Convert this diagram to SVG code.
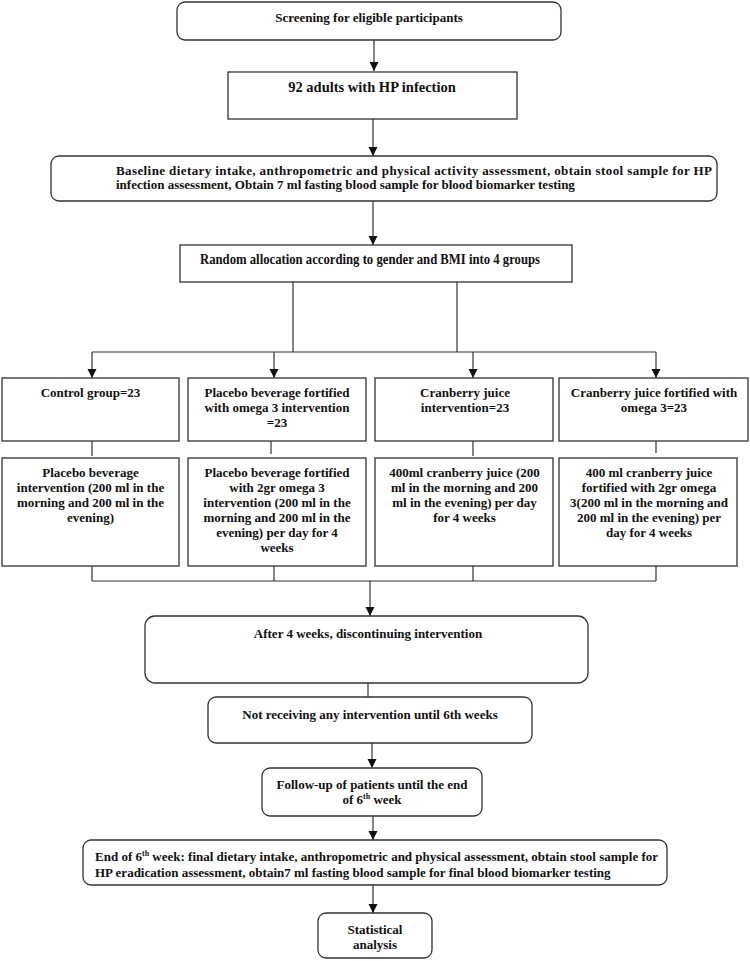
<svg xmlns="http://www.w3.org/2000/svg" width="750" height="961" viewBox="0 0 750 961">
<style>
.b{fill:#fff;stroke:#333;stroke-width:1.3}
.t{font-family:"Liberation Serif","Times New Roman",serif;font-weight:bold;font-size:13px;fill:#111}
.c{text-anchor:middle}
.l{fill:none;stroke:#333;stroke-width:1.2}
</style>
<defs>
<marker id="ah" markerWidth="10" markerHeight="10" refX="9" refY="5" orient="auto" markerUnits="userSpaceOnUse">
<path d="M0,0.5 L9,5 L0,9.5 Z" fill="#111"/>
</marker>
</defs>
<rect width="750" height="961" fill="#fff"/>
<g id="connectors">
<line class="l" x1="374" y1="40" x2="374" y2="71" marker-end="url(#ah)"/>
<line class="l" x1="373" y1="119" x2="373" y2="156" marker-end="url(#ah)"/>
<line class="l" x1="373" y1="201" x2="373" y2="245" marker-end="url(#ah)"/>
<line class="l" x1="293" y1="282" x2="293" y2="352"/>
<line class="l" x1="457" y1="282" x2="457" y2="352"/>
<line class="l" x1="92" y1="352" x2="656" y2="352"/>
<line class="l" x1="92" y1="352" x2="92" y2="378" marker-end="url(#ah)"/>
<line class="l" x1="274" y1="352" x2="274" y2="378" marker-end="url(#ah)"/>
<line class="l" x1="473" y1="352" x2="473" y2="378" marker-end="url(#ah)"/>
<line class="l" x1="656" y1="352" x2="656" y2="378" marker-end="url(#ah)"/>
<line class="l" x1="92" y1="441" x2="92" y2="456"/>
<line class="l" x1="271" y1="441" x2="271" y2="454"/>
<line class="l" x1="473" y1="441" x2="473" y2="456"/>
<line class="l" x1="656" y1="441" x2="656" y2="453"/>
<line class="l" x1="92" y1="566" x2="92" y2="581"/>
<line class="l" x1="274" y1="566" x2="274" y2="581"/>
<line class="l" x1="473" y1="566" x2="473" y2="581"/>
<line class="l" x1="656" y1="566" x2="656" y2="581"/>
<line class="l" x1="92" y1="581" x2="656" y2="581"/>
<line class="l" x1="370" y1="581" x2="370" y2="616" marker-end="url(#ah)"/>
<line class="l" x1="368" y1="683" x2="368" y2="697"/>
<line class="l" x1="372" y1="743" x2="372" y2="768" marker-end="url(#ah)"/>
<line class="l" x1="373" y1="816" x2="373" y2="840" marker-end="url(#ah)"/>
<line class="l" x1="373" y1="885" x2="373" y2="913" marker-end="url(#ah)"/>
</g>
<g id="n1"><rect class="b" x="177" y="2" width="384" height="38" rx="8"/>
<text class="t c" x="369" y="21.5">Screening for eligible participants</text></g>
<g id="n2"><rect class="b" x="228" y="72" width="289" height="47"/>
<text class="t c" x="372" y="92" style="font-size:14.5px">92 adults with HP infection</text></g>
<g id="n3"><rect class="b" x="51" y="156" width="666" height="45" rx="8"/>
<text class="t" x="116" y="175" textLength="596" lengthAdjust="spacing">Baseline dietary intake, anthropometric and physical activity assessment, obtain stool sample for HP</text>
<text class="t" x="116" y="188.5">infection assessment, Obtain 7 ml fasting blood sample for blood biomarker testing</text></g>
<g id="n4"><rect class="b" x="180" y="245" width="392" height="37"/>
<text class="t" x="200" y="264" style="font-size:14px" textLength="340" lengthAdjust="spacingAndGlyphs">Random allocation according to gender and BMI into 4 groups</text></g>
<g id="g1"><rect class="b" x="2" y="378" width="177" height="63"/>
<text class="t c" x="90.5" y="396.5">Control group=23</text></g>
<g id="g2"><rect class="b" x="188" y="378" width="178" height="63"/>
<text class="t c" x="277" y="396.5">Placebo beverage fortified</text>
<text class="t c" x="277" y="411.5">with omega 3 intervention</text>
<text class="t c" x="277" y="426.5">=23</text></g>
<g id="g3"><rect class="b" x="375" y="378" width="178" height="63"/>
<text class="t c" x="465" y="396.5">Cranberry juice</text>
<text class="t c" x="465" y="411.5">intervention=23</text></g>
<g id="g4"><rect class="b" x="559" y="378" width="189" height="63"/>
<text class="t c" x="654" y="396.5">Cranberry juice fortified with</text>
<text class="t c" x="654" y="411.5">omega 3=23</text></g>
<g id="d1"><rect class="b" x="2" y="458" width="177" height="108"/>
<text class="t c" x="90.5" y="476.5">Placebo beverage</text>
<text class="t c" x="90.5" y="491.5">intervention (200 ml in the</text>
<text class="t c" x="90.5" y="506.5">morning and 200 ml in the</text>
<text class="t c" x="90.5" y="521.5">evening)</text></g>
<g id="d2"><rect class="b" x="188" y="458" width="178" height="108"/>
<text class="t c" x="277" y="476.5">Placebo beverage fortified</text>
<text class="t c" x="277" y="491.5">with 2gr omega 3</text>
<text class="t c" x="277" y="506.5">intervention (200 ml in the</text>
<text class="t c" x="277" y="521.5">morning and 200 ml in the</text>
<text class="t c" x="277" y="536.5">evening) per day for 4</text>
<text class="t c" x="277" y="551.5">weeks</text></g>
<g id="d3"><rect class="b" x="375" y="458" width="178" height="108"/>
<text class="t c" x="464.5" y="476.5">400ml cranberry juice (200</text>
<text class="t c" x="464.5" y="491.5">ml in the morning and 200</text>
<text class="t c" x="464.5" y="506.5">ml in the evening) per day</text>
<text class="t c" x="464.5" y="521.5">for 4 weeks</text></g>
<g id="d4"><rect class="b" x="559" y="458" width="178" height="108"/>
<text class="t c" x="649" y="476.5">400 ml cranberry juice</text>
<text class="t c" x="649" y="491.5">fortified with 2gr omega</text>
<text class="t c" x="649" y="506.5">3(200 ml in the morning and</text>
<text class="t c" x="649" y="521.5">200 ml in the evening) per</text>
<text class="t c" x="649" y="536.5">day for 4 weeks</text></g>
<g id="n5"><rect class="b" x="145" y="616" width="443" height="67" rx="10"/>
<text class="t c" x="368" y="637.5">After 4 weeks, discontinuing intervention</text></g>
<g id="n6"><rect class="b" x="208" y="697" width="324" height="46" rx="8"/>
<text class="t c" x="370" y="718.5">Not receiving any intervention until 6th weeks</text></g>
<g id="n7"><rect class="b" x="262" y="768" width="220" height="48" rx="8"/>
<text class="t c" x="372" y="788.5">Follow-up of patients until the end</text>
<text class="t c" x="372" y="803.5">of 6<tspan dy="-5" style="font-size:8px">th</tspan><tspan dy="5"> week</tspan></text></g>
<g id="n8"><rect class="b" x="83" y="840" width="584" height="45" rx="8"/>
<text class="t" x="95" y="860.5">End of 6<tspan dy="-5" style="font-size:8px">th</tspan><tspan dy="5"> week: final dietary intake, anthropometric and physical assessment, obtain stool sample for</tspan></text>
<text class="t" x="95" y="876.5">HP eradication assessment, obtain7 ml fasting blood sample for final blood biomarker testing</text></g>
<g id="n9"><rect class="b" x="318" y="913" width="114" height="45" rx="8"/>
<text class="t c" x="375" y="933.5">Statistical</text>
<text class="t c" x="375" y="948.5">analysis</text></g>
</svg>
